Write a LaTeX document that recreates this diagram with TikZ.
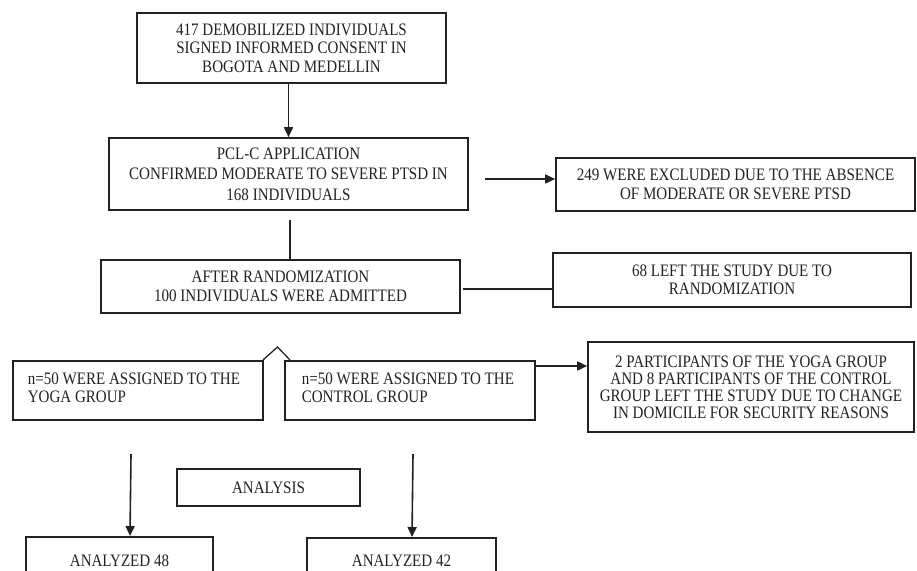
\documentclass[tikz,border=0pt]{standalone}
\usepackage{fontspec}
\setmainfont{Liberation Serif}[FakeStretch=0.86]
\usetikzlibrary{arrows.meta,calc}
\definecolor{ink}{HTML}{222222}
\begin{document}
\begin{tikzpicture}[x=1pt,y=-1pt,
  box/.style={draw=ink,line width=1.6pt,rectangle,inner sep=0pt,text=ink,font=\fontsize{17.5}{18.5}\selectfont,align=center},
  thickbox/.style={box,line width=2.8pt},
  arr/.style={draw=ink,line width=1.6pt,-{Triangle[length=10pt,width=9pt]}},
  ln/.style={draw=ink,line width=1.6pt}]
\useasboundingbox (0,0) rectangle (917,570);
\begin{scope}
\clip (0,0) rectangle (917,570);
\node[box,minimum width=309pt,minimum height=70pt] (b1) at (291.5,48) {417 DEMOBILIZED INDIVIDUALS\\SIGNED INFORMED CONSENT IN\\BOGOTA AND MEDELLIN};
\node[box,minimum width=359pt,minimum height=72pt,font=\fontsize{17.5}{20.5}\selectfont] (b2) at (288.5,174) {PCL-C APPLICATION\\CONFIRMED MODERATE TO SEVERE PTSD IN\\168 INDIVIDUALS};
\node[box,minimum width=359pt,minimum height=53pt] (b3) at (735.5,184.5) {249 WERE EXCLUDED DUE TO THE ABSENCE\\OF MODERATE OR SEVERE PTSD};
\node[box,minimum width=359pt,minimum height=53pt] (b4) at (280.5,286.5) {AFTER RANDOMIZATION\\100 INDIVIDUALS WERE ADMITTED};
\node[box,minimum width=358pt,minimum height=54pt] (b5) at (732,280) {68 LEFT THE STUDY DUE TO\\RANDOMIZATION};
\node[thickbox,minimum width=250pt,minimum height=59pt] (yoga) at (138,390.5) {};
\node[box,draw=none,anchor=west,align=left] (yogat) at (27,388) {n=50 WERE ASSIGNED TO THE\\YOGA GROUP};
\node[box,minimum width=250pt,minimum height=59pt] (ctrl) at (410,390.5) {};
\node[box,draw=none,anchor=west,align=left] (ctrlt) at (301,388) {n=50 WERE ASSIGNED TO THE\\CONTROL GROUP};
\node[box,minimum width=326pt,minimum height=90pt,font=\fontsize{17.5}{17}\selectfont] (b8) at (751,387) {2 PARTICIPANTS OF THE YOGA GROUP\\AND 8 PARTICIPANTS OF THE CONTROL\\GROUP LEFT THE STUDY DUE TO CHANGE\\IN DOMICILE FOR SECURITY REASONS};
\node[box,minimum width=183pt,minimum height=37pt] (ana) at (268.5,487.5) {ANALYSIS};
\node[box,minimum width=187pt,minimum height=60pt,anchor=north] (a48) at (119.5,536) {};
\node[box,draw=none] (a48t) at (119.5,561) {ANALYZED 48};
\node[box,minimum width=189pt,minimum height=60pt,anchor=north] (a42) at (401.5,537) {};
\node[box,draw=none] (a42t) at (401.5,561) {ANALYZED 42};
% connectors
\draw[arr] (b1.south -| b2.north) -- (b2.north);
\coordinate (c23) at (485,179);
\draw[arr] (c23) -- (c23 -| b3.west);
\coordinate (c24) at (290,220);
\draw[ln] (c24) -- (c24 |- b4.north);
\coordinate (c45) at (463,289);
\draw[ln] (c45) -- (c45 -| b5.west);
\coordinate (cl) at (263,360);
\coordinate (cp) at (277.5,347);
\coordinate (cr) at (290,360);
\draw[ln,line width=1.3pt] (cl) -- (cp) -- (cr);
\coordinate (c78) at (536,366);
\draw[arr] (c78) -- (c78 -| b8.west);
\coordinate (cy) at (131,454);
\coordinate (cyb) at (130,536);
\draw[arr] (cy) -- (cyb);
\coordinate (cc) at (413,454);
\coordinate (ccb) at (412,537);
\draw[arr] (cc) -- (ccb);
\end{scope}
\end{tikzpicture}
\end{document}
